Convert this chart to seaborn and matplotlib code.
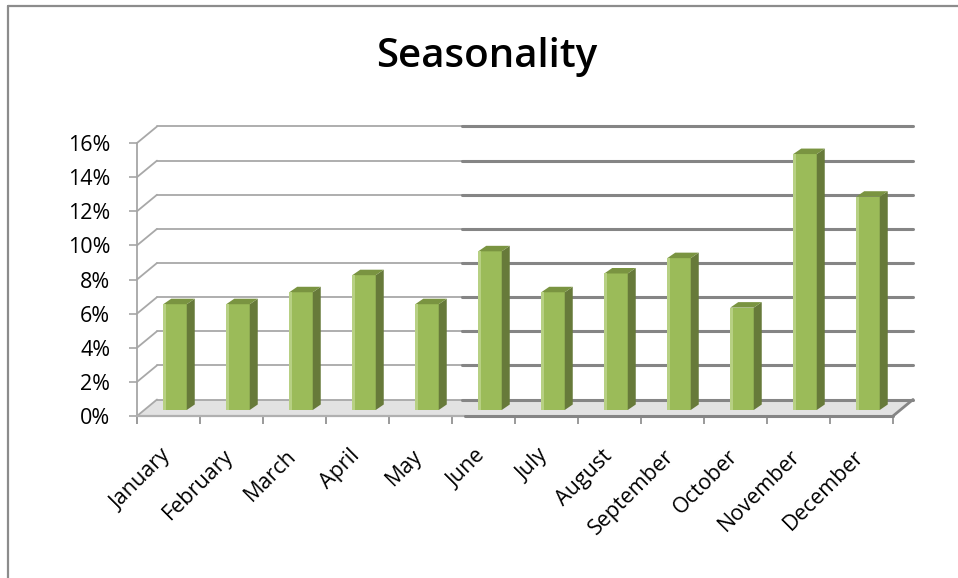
import numpy as np
import pandas as pd
import matplotlib
matplotlib.use("Agg")
import matplotlib.pyplot as plt
import seaborn as sns
from matplotlib.patches import Polygon
from matplotlib.lines import Line2D
from matplotlib.transforms import ScaledTranslation

# ---- data ----
months = ["January", "February", "March", "April", "May", "June",
          "July", "August", "September", "October", "November", "December"]
shares = [0.062, 0.062, 0.069, 0.079, 0.062, 0.093,
          0.069, 0.080, 0.089, 0.060, 0.150, 0.125]
y_ticks = [0.00, 0.02, 0.04, 0.06, 0.08, 0.10, 0.12, 0.14, 0.16]
y_tick_labels = ["0%", "2%", "4%", "6%", "8%", "10%", "12%", "14%", "16%"]
title = "Seasonality"

# ---- style ----
sns.set_style("white")
plt.rcParams["font.family"] = ["Open Sans", "DejaVu Sans"]

FRONT = "#9bbb59"
SIDE = "#677a3a"
TOP = "#7a9441"
HILITE = "#b7d083"
GRID_L = "#a8a8a8"
GRID_R = "#858585"
AXIS_C = "#a6a6a6"

W, H = 958, 578
fig = plt.figure(figsize=(W / 100, H / 100), dpi=100)
fig.patch.set_facecolor("white")

AX_L, AX_R, AX_B, AX_T = 137, 893, 416, 143
ax = fig.add_axes([AX_L / W, (H - AX_B) / H, (AX_R - AX_L) / W, (AX_B - AX_T) / H])

df = pd.DataFrame({"month": months, "share": shares})
sns.barplot(data=df, x="month", y="share", color=FRONT, saturation=1,
            width=0.373, ax=ax, zorder=5, linewidth=0)
ax.set_xlim(-0.5, 11.5)
ax.set_ylim(0, 0.16)
ax.set_xlabel("")
ax.set_ylabel("")
for s in ax.spines.values():
    s.set_visible(False)
ax.set_facecolor("none")

sx = (AX_R - AX_L) / 12.0
sy = (AX_B - AX_T) / 0.16


def d(px, py):
    return px / sx, py / sy


Dx, Dy = d(20, 16.5)          # floor / wall depth
Ox, Oy = d(6.5, 6)            # bar position inside depth
Bx, By = d(8, 5.5)            # bar depth
split_back = (462 - 20 - AX_L) / sx - 0.5
split_front = (465 - AX_L) / sx - 0.5

# floor
floor = Polygon([(-0.5, 0), (11.5, 0), (11.5 + Dx, Dy), (-0.5 + Dx, Dy)],
                closed=True, facecolor="#e2e2e2", edgecolor="none",
                zorder=1, clip_on=False)
ax.add_patch(floor)

# back wall grid + left wall diagonals
for yv in y_ticks:
    yb = yv + Dy
    x0b, x1b = -0.5 + Dx, 11.5 + Dx
    ax.add_line(Line2D([x0b, split_back + Dx], [yb, yb], color=GRID_L, lw=1.3,
                       zorder=2, clip_on=False))
    ax.add_line(Line2D([split_back + Dx, x1b], [yb, yb], color=GRID_R, lw=2.2,
                       zorder=2, clip_on=False))
    ax.add_line(Line2D([-0.5, x0b], [yv, yb], color=GRID_L, lw=1.3,
                       zorder=2, clip_on=False))

# front axis lines
ax.add_line(Line2D([-0.5, -0.5], [0, 0.16], color=AXIS_C, lw=1.3, zorder=3, clip_on=False))
ax.add_line(Line2D([-0.5, split_front], [0, 0], color="#b0b0b0", lw=1.6, zorder=3, clip_on=False))
ax.add_line(Line2D([split_front, 11.5], [0, 0], color=GRID_R, lw=2.2, zorder=3, clip_on=False))
ax.add_line(Line2D([11.5, 11.5 + Dx], [0, Dy], color=GRID_R, lw=2.0, zorder=3, clip_on=False))

# 3D-ish bars from seaborn's patches
for p in list(ax.patches):
    if p is floor:
        continue
    w = p.get_width()
    h = p.get_height()
    x0 = p.get_x() + Ox
    b = Oy
    p.set_x(x0)
    p.set_y(b)
    side = Polygon([(x0 + w, b), (x0 + w + Bx, b + By), (x0 + w + Bx, b + h + By), (x0 + w, b + h)],
                   closed=True, facecolor=SIDE, edgecolor="none", zorder=5, clip_on=False)
    top = Polygon([(x0, b + h), (x0 + Bx, b + h + By), (x0 + w + Bx, b + h + By), (x0 + w, b + h)],
                  closed=True, facecolor=TOP, edgecolor="none", zorder=5, clip_on=False)
    hx, _ = d(2.5, 0)
    hl = Polygon([(x0, b), (x0 + hx, b), (x0 + hx, b + h), (x0, b + h)],
                 closed=True, facecolor=HILITE, edgecolor="none", zorder=6, clip_on=False)
    p.set_clip_on(False)
    ax.add_patch(side)
    ax.add_patch(top)
    ax.add_patch(hl)

# y ticks
ax.set_yticks(y_ticks)
ax.set_yticklabels(y_tick_labels)
ax.tick_params(axis="y", which="major", left=True, length=5.8, width=1.2,
               color=AXIS_C, pad=13.5, labelsize=15.5, labelcolor="black")

# x ticks at category boundaries, labels placed manually
ax.set_xticks(np.arange(-0.5, 12, 1.0), minor=True)
ax.tick_params(axis="x", which="minor", bottom=True, length=6, width=1.4, color="#9a9a9a")
ax.tick_params(axis="x", which="major", bottom=False, labelbottom=False)

for i, m in enumerate(months):
    tr = ax.transData + ScaledTranslation(-1 / 100, -37 / 100, fig.dpi_scale_trans)
    ax.text(i, 0, m, transform=tr, rotation=45, rotation_mode="anchor",
            ha="right", va="center", fontsize=15.5, color="black", clip_on=False)

# title
fig.text(487 / W, 1 - 67 / H, title, ha="center", va="baseline",
         fontsize=29, fontweight="semibold", color="black")

# chart border (left and top visible)
fig.add_artist(Line2D([8 / W, 8 / W], [0, 1 - 6 / H], transform=fig.transFigure,
                      color="#8c8c8c", lw=1.6))
fig.add_artist(Line2D([8 / W, 1], [1 - 6 / H, 1 - 6 / H], transform=fig.transFigure,
                      color="#8c8c8c", lw=1.6))

fig.savefig("out.png", dpi=100, facecolor="white")
